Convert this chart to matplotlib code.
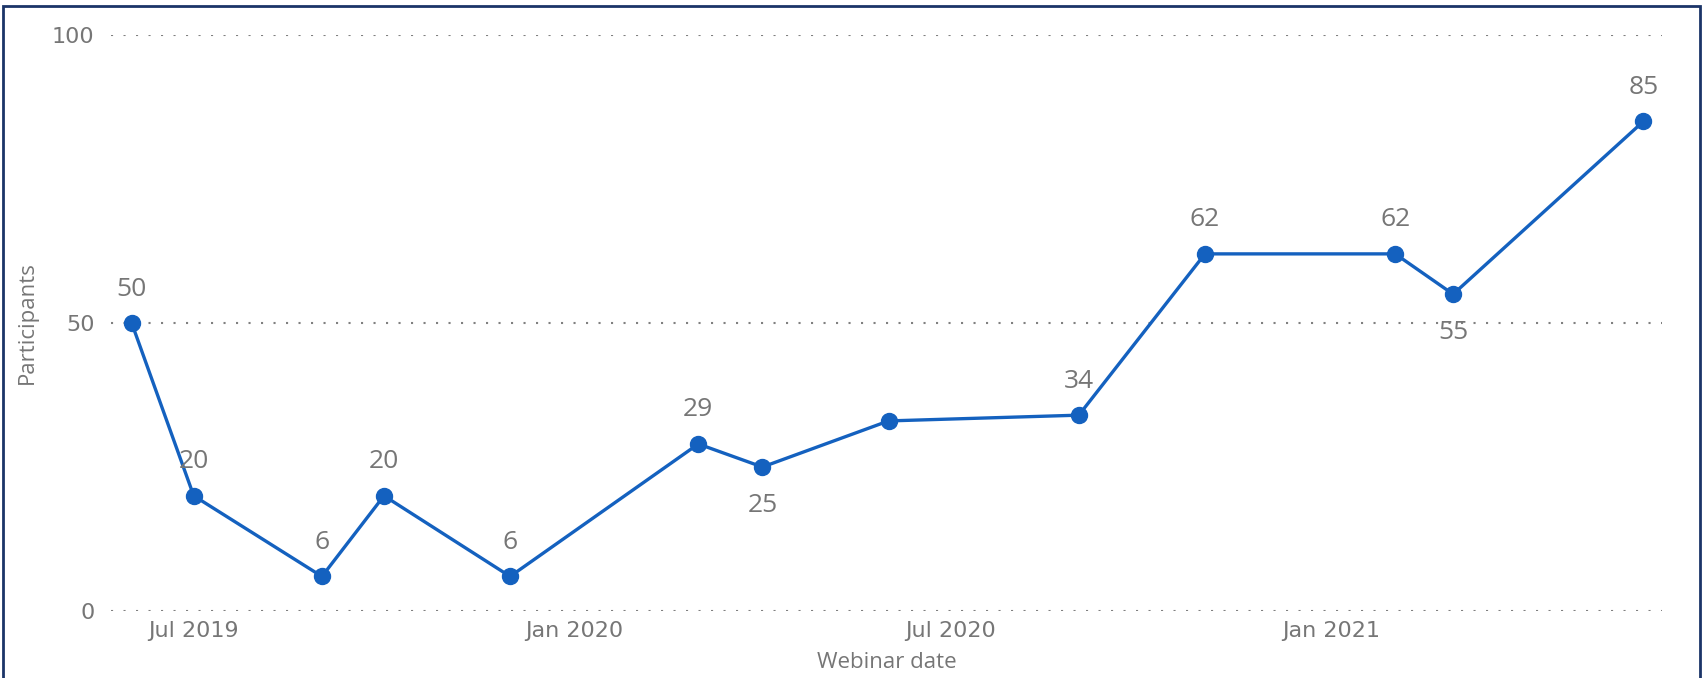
import matplotlib
matplotlib.use("Agg")
import matplotlib.pyplot as plt
from matplotlib.patches import Rectangle
import datetime as dt

dates = ["2019-06-01", "2019-07-01", "2019-09-01", "2019-10-01", "2019-12-01",
         "2020-03-01", "2020-04-01", "2020-06-01", "2020-09-01", "2020-11-01",
         "2021-02-01", "2021-03-01", "2021-06-01"]
participants = [50, 20, 6, 20, 6, 29, 25, 33, 34, 62, 62, 55, 85]
labels = ["50", "20", "6", "20", "6", "29", "25", "", "34", "62", "62", "55", "85"]
label_below = [False, False, False, False, False, False, True, False, False, False, False, True, False]
yticks = [0, 50, 100]
xticks = ["2019-07-01", "2020-01-01", "2020-07-01", "2021-01-01"]
xtick_labels = ["Jul 2019", "Jan 2020", "Jul 2020", "Jan 2021"]

W, H = 1707, 678
fig = plt.figure(figsize=(W / 100, H / 100), dpi=100)
ax = fig.add_axes([111 / W, (H - 611) / H, (1662 - 111) / W, (611 - 35) / H])

xd = [dt.datetime.strptime(d, "%Y-%m-%d") for d in dates]
blue = "#1461BF"
grey = "#767676"
ax.plot(xd, participants, color=blue, lw=2.4, marker="o", ms=11.5, clip_on=False, zorder=3)

for x, y, lab, below in zip(xd, participants, labels, label_below):
    if not lab:
        continue
    ax.annotate(lab, (x, y), xytext=(0, -38 if below else 34), textcoords="offset pixels",
                ha="center", va="center", fontsize=19, color=grey, family="Open Sans", zorder=4)

ax.set_xlim(dt.datetime(2019, 5, 22), dt.datetime(2021, 6, 10))
ax.set_ylim(0, 100)
ax.set_yticks(yticks)
ax.set_yticklabels([str(t) for t in yticks], fontsize=16, color=grey)
ax.set_xticks([dt.datetime.strptime(d, "%Y-%m-%d") for d in xticks])
ax.set_xticklabels(xtick_labels, fontsize=16, color=grey)
ax.tick_params(length=0, pad=12)
ax.tick_params(axis="x", pad=7)
for s in ax.spines.values():
    s.set_visible(False)
ax.grid(axis="y", color="#808080", linestyle=(0, (1, 5.0)), lw=1.5)
ax.set_xlabel("Webinar date", fontsize=16, color=grey, family="Open Sans", labelpad=8)
ax.set_ylabel("Participants", fontsize=16, color=grey, family="Open Sans", labelpad=10)

fig.add_artist(Rectangle((3 / W, -0.05), (1700 - 3) / W, (H - 6) / H + 0.05,
                         transform=fig.transFigure, fill=False, ec="#1B3468", lw=2))

fig.savefig("out.png", dpi=100)
